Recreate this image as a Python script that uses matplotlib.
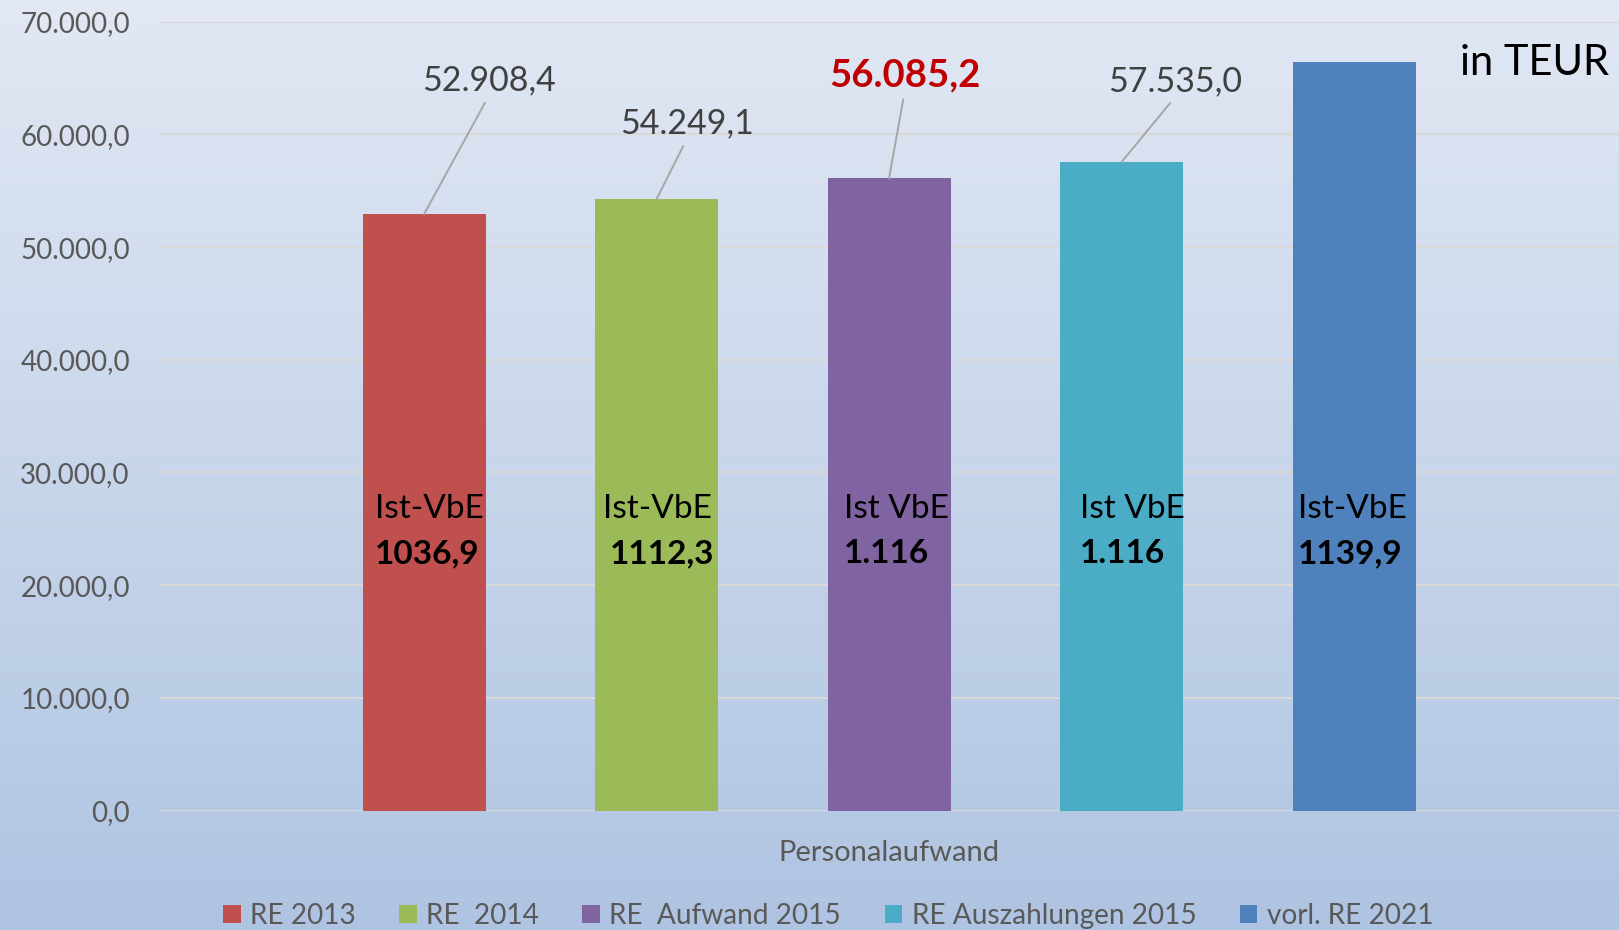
import numpy as np
import matplotlib
matplotlib.use("Agg")
import matplotlib.pyplot as plt
from matplotlib.patches import Patch
from matplotlib.colors import LinearSegmentedColormap

# ---------------- data ----------------
category = "Personalaufwand"
series = ["RE 2013", "RE  2014", "RE  Aufwand 2015", "RE Auszahlungen 2015", "vorl. RE 2021"]
values = [52908.4, 54249.1, 56085.2, 57535.0, 66400.0]
show_value_label = [True, True, True, True, False]
vbe_titles = ["Ist-VbE", "Ist-VbE", "Ist VbE", "Ist VbE", "Ist-VbE"]
vbe_values = ["1036,9", "1112,3", "1.116", "1.116", "1139,9"]
colors = ["#c0504d", "#9bbb59", "#8064a2", "#4bacc6", "#4f81bd"]
y_ticks = [0, 10000, 20000, 30000, 40000, 50000, 60000, 70000]
unit_text = "in TEUR"

def de_fmt(v):
    s = f"{v:,.1f}"
    return s.replace(",", "X").replace(".", ",").replace("X", ".")

plt.rcParams['font.family'] = ['Lato', 'DejaVu Sans']

W, H = 1619, 930
fig = plt.figure(figsize=(W / 100, H / 100), dpi=100)

# background gradient
bg = fig.add_axes([0, 0, 1, 1], zorder=-10)
cmap = LinearSegmentedColormap.from_list("bg", ["#e2e8f4", "#afc4e2"])
bg.imshow(np.linspace(0, 1, 256).reshape(-1, 1), aspect="auto", cmap=cmap,
          extent=[0, 1, 0, 1])
bg.set_axis_off()

ax_left = 159 / W
ax_bottom = (H - 810.5) / H
ax_top = (H - 21.7) / H
ax = fig.add_axes([ax_left, ax_bottom, 1 - ax_left, ax_top - ax_bottom])
ax.patch.set_alpha(0)

px_per_unit = (W - 159)  # axis x from -0.5 to 0.5
bar_w = 123 / px_per_unit
step = 232.5 / px_per_unit
n = len(series)
xs = [(i - (n - 1) / 2) * step for i in range(n)]

ax.set_xlim(-0.5, 0.5)
ax.set_ylim(0, 70000)

for y in y_ticks[1:]:
    ax.axhline(y, color="#d9d9d9", lw=1.5, zorder=0)
ax.axhline(0, color="#d9d9d9", lw=2.2, zorder=0)

bars = ax.bar(xs, values, width=bar_w, color=colors, zorder=2)

# value labels with leader lines (pixel offsets)
label_offsets = [(64.5, 134), (30, 75.5), (15.5, 103), (53.5, 81), (0, 0)]
for i, (x, v) in enumerate(zip(xs, values)):
    if not show_value_label[i]:
        continue
    dx, dy = label_offsets[i]
    highlight = (i == 2)
    ax.annotate(de_fmt(v), xy=(x, v), xytext=(dx, dy), textcoords="offset pixels",
                ha="center", va="center",
                fontsize=27.5 if highlight else 24.5,
                color="#c00000" if highlight else "#404040",
                fontweight="bold" if highlight else "normal",
                arrowprops=dict(arrowstyle="-", color="#a6a6a6", lw=1.4,
                                shrinkA=3, shrinkB=0, relpos=(0.5, 0.0)),
                zorder=3)

# inside labels
title_dx = [12, 7.5, 16.5, 20, 5]
value_dx = [12, 14.5, 16.5, 20, 5]
for i, x in enumerate(xs):
    left = x - bar_w / 2
    ax.annotate(vbe_titles[i], xy=(left, 26900), xytext=(title_dx[i], -2),
                textcoords="offset pixels", ha="left", va="center",
                fontsize=24, color="black", zorder=4)
    ax.annotate(vbe_values[i], xy=(left, 23000), xytext=(value_dx[i], -2),
                textcoords="offset pixels", ha="left", va="center",
                fontsize=24, color="black", fontweight="bold", zorder=4)

ax.set_yticks(y_ticks, labels=[de_fmt(t) for t in y_ticks])
ax.set_xticks([0], labels=[category])
ax.tick_params(axis="y", length=0, pad=21, labelsize=20, labelcolor="#595959")
ax.tick_params(axis="x", length=0, pad=21, labelsize=21, labelcolor="#595959")
for s in ax.spines.values():
    s.set_visible(False)

fig.text(1534 / W, 1 - 63 / H, unit_text, ha="center", va="center",
         fontsize=30, color="black")

handles = [Patch(facecolor=c, edgecolor="none") for c in colors]
fig.legend(handles, series, loc="center left", bbox_to_anchor=(223 / W, 1 - 916 / H),
           ncol=n, frameon=False, fontsize=20.2, labelcolor="#595959",
           handlelength=0.63, handleheight=0.63, handletextpad=0.33,
           columnspacing=1.55, borderpad=0, borderaxespad=0)

fig.savefig("out.png", dpi=100)
